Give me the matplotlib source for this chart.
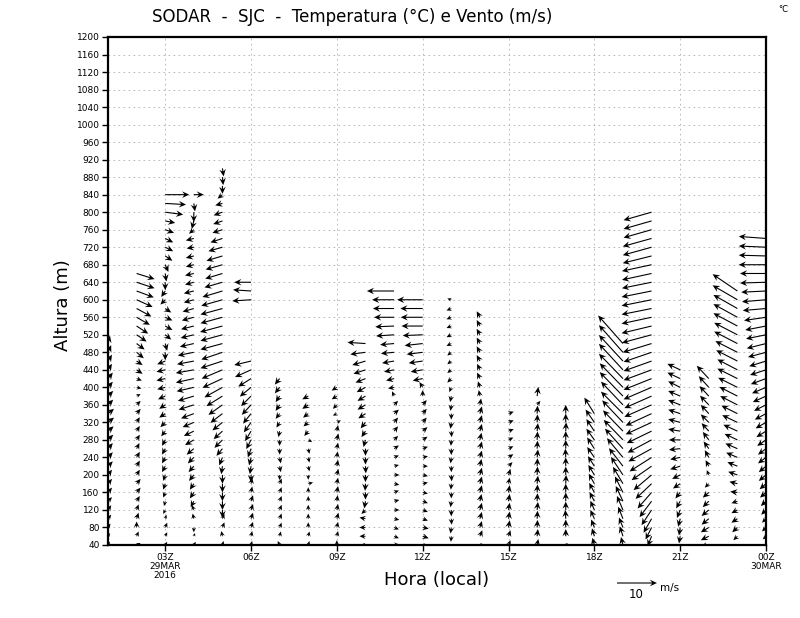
import numpy as np
import matplotlib
matplotlib.use('Agg')
import matplotlib.pyplot as plt

# hourly profiles, 01Z .. 24Z (00Z 30MAR)
hours = list(range(1, 25))
tops = [500, 660, 840, 840, 900, 640, 420, 380, 400, 500, 620, 600,
        600, 560, 340, 380, 340, 340, 500, 800, 440, 420, 620, 740]

# u, v in m/s, from the top level down to 40 m, every 20 m (None = no data)
u01 = [0.5, 0.8, 1.0, 1.0, 1.2, 1.2, 1.3, 1.3, 1.5, 1.5, 1.4, 1.3, 1.2, 1.2, 1.2, 1.0,
       1.0, 1.0, 1.0, 0.8, 0.8, 0.6, 0.5, 0.5]
v01 = [2.0, 1.8, 1.6, 1.5, 1.5, 1.4, 1.3, 1.3, 1.2, 1.2, 1.2, 1.3, 1.4, 1.3, 1.2, 1.3,
       1.2, 1.2, 1.0, 1.2, 1.0, 1.0, 0.8, 0.8]
u02 = [4.5, 4.5, 4.3, 4.0, 3.7, 3.3, 2.9, 2.5, 2.0, 1.8, 1.5, 1.5, 1.3, 1.2, 1.0, 1.0,
       1.0, 0.8, 0.8, 0.8, 0.7, 0.8, 0.8, 0.8, 1.0, 1.0, 0.8, 0.5, 0.5, 0.0, 0.5, 1.0]
v02 = [-1.4, -1.5, -1.6, -1.8, -2.0, -1.9, -1.9, -1.7, -1.5, -1.5, -1.0, -1.0, -0.5, -0.3, 0.5, 1.0,
       1.2, 1.3, 1.3, 1.3, 1.4, 1.4, 1.4, 1.3, 1.2, 1.2, 1.3, 1.4, 1.5, 1.5, 1.2, 0.5]
u03 = [6.0, 5.2, 4.5, 2.5, 2.2, 2.0, 2.0, 1.8, 0.8, 0.3, 0.0, -1.0, -1.2, 1.5, 1.8, 1.8,
       1.5, 0.5, 0.0, -2.0, -2.2, -2.2, -2.0, -1.8, -1.5, -1.5, -1.2, -1.0, -0.8, -0.8, -0.8, -0.8,
       -0.5, -0.5, -0.5, -0.3, -0.5, 0.3, 0.5, 0.5, 0.5]
v03 = [0.0, -0.3, -0.6, -0.5, -0.8, -1.0, -1.0, -1.2, -1.8, -2.0, -2.0, -1.5, -1.2, -1.0, -0.8, -1.0,
       -1.2, -1.8, -2.0, -0.8, -0.5, -0.5, -0.5, -0.8, -1.0, -1.0, -1.2, -1.3, -1.5, -1.5, -1.5, -1.5,
       -1.5, -1.5, -1.3, -1.2, -1.0, 1.0, 1.2, 1.0, 0.8]
u04 = [2.5, 0.3, 0.0, -0.5, -1.2, -2.0, -1.8, -2.0, -2.0, -2.2, -2.2, -2.5, -2.5, -2.8, -3.0, -3.2,
       -3.3, -3.5, -4.0, -4.2, -4.5, -4.5, -4.3, -4.0, -3.8, -3.2, -2.8, -2.5, -2.2, -1.8, -1.5, -1.3,
       -1.2, -1.0, -1.0, -0.8, -0.5, -0.3, 0.0, 0.3, 0.5]
v04 = [0.0, -2.0, -2.5, -2.0, -1.0, -0.5, -0.3, -0.5, -0.5, -0.5, -0.6, -0.6, -0.7, -0.8, -0.8, -0.8,
       -0.8, -0.8, -0.8, -0.8, -0.8, -1.0, -1.0, -1.2, -1.2, -1.2, -1.2, -1.2, -1.3, -1.5, -1.5, -1.5,
       -1.5, -1.5, -1.5, -1.5, 1.2, 1.3, -1.2, 0.8, 0.8]
u05 = [0.3, 0.2, 0.0, -1.2, -1.8, -2.2, -2.3, -2.5, -3.0, -3.5, -4.0, -4.2, -4.3, -4.5, -5.0, -5.3,
       -5.5, -5.5, -5.6, -5.5, -5.5, -5.3, -5.5, -5.2, -5.0, -4.5, -4.0, -3.5, -3.0, -2.5, -2.2, -2.0,
       -1.5, -0.8, -0.3, 0.0, 0.0, 0.0, 0.0, 0.0, 0.5, 0.5, -0.3, 0.3]
v05 = [-2.0, -2.0, -2.0, -1.0, -0.5, -0.8, -0.8, -0.8, -1.0, -1.0, -1.2, -1.2, -1.3, -1.3, -1.5, -1.5,
       -1.5, -1.5, -1.5, -1.5, -1.5, -1.8, -1.8, -2.2, -2.3, -2.5, -2.5, -2.5, -2.3, -2.0, -2.0, -2.0,
       -1.8, -2.0, -2.0, -2.2, -2.2, -2.2, -2.2, -2.0, 1.2, 1.3, 1.3, 1.0]
u06 = [-4.2, -4.5, -4.7, None, None, None, None, None, None, -4.2, -4.0, -3.2, -2.8, -2.5, -2.3, -2.0,
       -1.8, -1.5, -1.2, -0.8, -0.5, -0.3, 0.0, 0.3, 0.3, 0.5, 0.5, 0.5, 0.5, 0.3, 0.3]
v06 = [0.0, 0.3, -0.3, None, None, None, None, None, None, -1.0, -1.8, -2.0, -2.3, -2.5, -2.5, -2.5,
       -2.5, -2.5, -2.3, -2.2, -2.0, -2.0, -1.8, 1.5, 1.5, 1.5, 1.5, 1.5, 1.4, 1.3, 1.0]
u07 = [-1.2, -1.2, -1.0, -1.0, -1.0, -0.8, -0.3, 0.0, 0.0, 0.3, 0.3, 0.0, 0.5, 0.5, 0.5, 0.5,
       0.5, 0.5, 0.3, -0.5]
v07 = [-1.5, -1.5, -1.5, -1.5, -1.3, -1.3, -1.5, -1.5, -1.5, -1.5, -1.5, -1.3, 1.3, 1.3, 1.3, 1.3,
       1.3, 1.2, 1.2, 1.0]
u08 = [-1.5, -1.5, -1.3, -1.2, -1.0, 1.0, 0.3, 0.3, 0.3, 0.0, 1.2, 0.0, 0.0, 0.0, 0.0, 0.0,
       0.3, 0.3]
v08 = [-0.8, -1.0, -1.0, -1.0, -1.2, -0.5, -1.3, -1.3, -1.3, -1.2, 0.3, 1.3, 1.3, 1.3, 1.3, 1.3,
       1.2, 1.0]
u09 = [-1.3, -1.3, -1.0, -1.0, 1.0, 0.3, 0.4, 0.3, 0.2, 0.3, 0.4, 0.3, 0.3, 0.2, 0.3, 0.4,
       0.3, 0.3, 0.0]
v09 = [-0.8, -0.8, -1.0, -0.5, 0.5, 1.5, 1.6, 1.5, 1.5, 1.6, 1.5, 1.5, 1.6, 1.5, 1.5, 1.5,
       1.4, 1.3, 1.2]
u10 = [-4.5, -3.8, -3.3, -3.0, -2.5, -2.2, -2.0, -2.0, -1.8, -1.2, -1.0, -0.5, 0.0, 0.0, 0.1, 0.0,
       -0.1, 0.0, -0.3, -1.0, -1.5, -1.5, -1.5, -1.3]
v10 = [0.3, -0.5, -1.0, -1.0, -1.0, -1.2, -1.2, -1.2, -1.2, -1.5, -1.5, -1.8, -1.8, -1.8, -1.8, -1.8,
       -1.8, -1.8, -1.8, -1.0, 0.3, 0.0, 0.0, 0.0]
u11 = [-6.8, -5.5, -5.3, -5.0, -4.7, -4.5, -3.5, -3.3, -3.0, -2.5, -2.0, -1.5, -0.5, 1.0, 1.2, 1.0,
       1.0, 1.0, 1.2, 1.2, 1.2, 1.3, 1.3, 1.2, 1.3, 1.3, 1.3, 1.2, 1.2, 1.5]
v11 = [0.0, 0.0, 0.0, 0.0, -0.2, -0.3, -0.3, -0.3, -0.5, -0.5, -0.5, -0.3, 1.2, 1.0, 1.0, 1.2,
       1.2, 1.0, 0.8, 0.5, 0.3, 0.0, -0.3, 0.5, 0.3, 0.0, -0.3, -0.5, -0.5, 0.0]
u12 = [-6.4, -5.6, -5.5, -5.3, -5.0, -4.5, -4.0, -3.5, -3.0, -2.5, -0.8, 0.0, 1.0, 1.0, 1.0, 1.2,
       1.2, 1.3, 1.3, 1.3, 1.3, 1.3, 1.3, 1.3, 1.3, 1.3, 1.5, 1.5, 1.3]
v12 = [0.0, 0.0, 0.0, 0.0, -0.2, -0.5, -0.5, -0.5, -0.5, -0.5, 1.3, 1.5, 1.2, 1.2, 1.2, 1.0,
       0.8, 0.5, 0.3, 0.0, -0.3, 0.3, -0.3, -0.5, -0.5, -0.5, -0.3, -0.5, -0.3]
u13 = [-1.0, -1.2, -1.2, -1.2, -1.2, -1.2, -1.0, -1.0, -1.0, -1.0, -0.5, -0.3, -0.2, 0.0, -0.2, 0.1,
       -0.1, 0.0, -0.2, 0.0, 0.1, -0.1, 0.0, -0.2, 0.0, 0.1, -0.2, -0.1, 0.0]
v13 = [0.3, -0.5, -0.5, -0.5, -0.6, -0.6, -0.8, -0.8, -0.8, -1.0, -1.2, -1.5, -1.5, -1.5, -1.6, -1.5,
       -1.5, -1.6, -1.5, -1.5, -1.6, -1.5, -1.5, -1.5, -1.6, -1.5, -1.5, -1.4, -1.2]
u14 = [-0.8, -0.8, -0.8, -0.8, -0.8, -0.8, -0.7, -0.7, -0.5, -0.3, 0.3, 0.5, 0.5, 0.5, 0.4, 0.5,
       0.5, 0.4, 0.5, 0.5, 0.5, 0.4, 0.5, 0.5, 0.5, 0.6, 1.2]
v14 = [1.5, 1.5, 1.5, 1.5, 1.5, 1.5, 1.5, 1.5, 1.5, 1.5, 1.6, 1.8, 1.8, 1.8, 1.8, 1.8,
       1.7, 1.8, 1.8, 1.8, 1.8, 1.8, 1.8, 1.7, 1.6, 1.5, 0.0]
u15 = [1.3, 1.3, 1.3, 1.2, 1.2, 1.2, 1.0, 0.5, 0.3, 0.3, 0.3, 0.3, 0.3, 0.3, 0.5, 0.5]
v15 = [0.5, 0.5, 0.5, 0.6, 0.6, 0.8, 1.0, 1.5, 1.5, 1.8, 1.8, 1.8, 1.8, 1.8, 1.5, 1.2]
u16 = [0.3, 0.8, 0.1, 0.1, 0.2, 0.1, 0.1, 0.2, 0.1, 0.1, 0.2, 0.1, 0.1, 0.2, 0.1, 0.1, 0.2, 0.3]
v16 = [2.3, 1.0, 2.0, 2.0, 2.0, 2.1, 2.0, 2.0, 2.0, 2.1, 2.0, 2.0, 2.0, 2.0, 2.0, 1.9, 1.8, 1.5]
u17 = [0.0, 0.0, 0.1, 0.0, 0.0, -0.1, 0.0, 0.0, 0.1, 0.0, 0.0, 0.0, -0.1, 0.0, 0.0, 0.5]
v17 = [2.2, 2.2, 2.2, 2.2, 2.2, 2.2, 2.2, 2.1, 2.2, 2.2, 2.2, 2.1, 2.2, 2.0, 1.8, 0.5]
u18 = [-2.5, -2.2, -2.0, -2.0, -1.8, -1.8, -1.6, -1.5, -1.4, -1.3, -1.2, -1.0, -1.0, -0.8, -0.6, -0.5]
v18 = [4.0, 3.2, 3.0, 2.8, 2.8, 2.6, 2.5, 2.5, 2.5, 2.4, 2.3, 2.3, 2.2, 2.0, 2.0, 1.8]
u19 = [-6.2, -6.0, -6.0, -6.0, -6.0, -5.8, -5.8, -5.5, -5.5, -5.2, -5.0, -4.8, -4.5, -4.0, -3.5, -3.0,
       -2.5, -2.0, -1.8, -1.5, -1.2, -1.0, -0.8, -0.5]
v19 = [7.0, 6.8, 6.5, 6.5, 6.2, 6.0, 6.0, 5.8, 5.5, 5.5, 5.2, 5.0, 5.0, 4.8, 4.5, 4.5,
       4.2, 4.0, 3.8, 3.5, 3.0, 2.5, 2.5, 2.0]
u20 = [-7.0, -7.0, -7.0, -7.2, -7.2, -7.2, -7.4, -7.4, -7.4, -7.5, -7.5, -7.5, -7.5, -7.5, -7.4, -7.2,
       -7.0, -7.0, -7.0, -7.0, -7.0, -6.8, -6.8, -6.5, -6.5, -6.2, -6.0, -5.8, -5.5, -5.0, -4.5, -4.0,
       -3.5, -3.0, -2.5, -2.0, -1.5, -1.0, -0.5]
v20 = [-2.0, -2.0, -2.0, -2.0, -2.0, -1.8, -1.6, -1.6, -1.5, -1.5, -1.5, -1.5, -1.6, -1.8, -2.0, -2.2,
       -2.4, -2.5, -2.6, -2.8, -3.0, -3.0, -3.0, -3.0, -3.0, -3.0, -3.2, -3.2, -3.5, -3.5, -3.8, -3.8,
       -4.0, -4.0, -3.8, -3.5, -3.0, -2.5, -1.5]
u21 = [-3.2, -3.2, -3.0, -3.0, -3.0, -3.0, -3.0, -3.0, -2.8, -2.8, -2.5, -2.5, -2.0, -1.8, -1.2, -1.0,
       -0.8, -0.5, -0.3, -0.3, 0.2]
v21 = [1.5, 1.5, 1.5, 1.3, 1.2, 1.0, 0.8, 0.5, 0.0, -0.3, -0.5, -0.8, -1.0, -1.2, -1.5, -1.8,
       -2.0, -2.0, -2.0, -1.8, -1.5]
u22 = [-3.0, -2.5, -2.3, -2.2, -2.0, -2.0, -1.8, -1.5, -1.3, -1.0, -0.8, -0.5, -1.0, -1.5, -1.5, -1.8,
       -1.8, -2.0, -2.0, -2.2]
v22 = [3.2, 2.8, 2.5, 2.3, 2.2, 2.0, 2.0, 2.0, 1.8, 1.8, 1.5, 1.2, -1.0, -1.3, -1.5, -1.5,
       -1.5, -1.2, -1.0, -0.5]
u23 = [-6.2, -6.2, -6.0, -6.0, -6.0, -5.8, -5.8, -5.5, -5.3, -5.0, -5.0, -4.8, -4.5, -4.3, -4.0, -3.8,
       -3.5, -3.2, -3.0, -2.8, -2.5, -2.3, -2.0, -1.8, -1.5, -1.5, -1.5, -1.3, -1.0, -0.8]
v23 = [4.2, 3.6, 3.4, 3.3, 3.2, 3.0, 3.0, 2.8, 2.7, 2.6, 2.5, 2.4, 2.3, 2.2, 2.0, 1.8,
       1.6, 1.5, 1.3, 1.2, 1.0, 0.8, 0.5, 0.2, -0.5, -0.8, -1.0, -1.2, -1.0, -0.8]
u24 = [-6.8, -6.8, -6.8, -6.8, -6.5, -6.5, -6.2, -6.0, -5.8, -5.5, -5.2, -5.0, -4.8, -4.5, -4.2, -4.0,
       -3.8, -3.5, -3.3, -3.0, -2.8, -2.6, -2.4, -2.2, -2.0, -2.0, -1.8, -1.8, -1.6, -1.5, -1.3, -1.2,
       -1.0, -1.0, -0.8, -0.5]
v24 = [0.5, 0.3, 0.2, 0.0, 0.0, -0.2, -0.3, -0.5, -0.5, -0.8, -1.0, -1.0, -1.2, -1.2, -1.3, -1.3,
       -1.4, -1.5, -1.5, -1.5, -1.5, -1.5, -1.5, -1.5, -1.5, -1.5, -1.5, -1.5, -1.4, -1.3, -1.2, -1.2,
       -1.0, -1.0, -0.8, -0.5]

u_cols = [u01, u02, u03, u04, u05, u06, u07, u08, u09, u10, u11, u12,
          u13, u14, u15, u16, u17, u18, u19, u20, u21, u22, u23, u24]
v_cols = [v01, v02, v03, v04, v05, v06, v07, v08, v09, v10, v11, v12,
          v13, v14, v15, v16, v17, v18, v19, v20, v21, v22, v23, v24]

xtick_pos = [3, 6, 9, 12, 15, 18, 21, 24]
xtick_lab = ['03Z\n29MAR\n2016', '06Z', '09Z', '12Z', '15Z', '18Z', '21Z', '00Z\n30MAR']

xs, ys, us, vs = [], [], [], []
for h, top, uc, vc in zip(hours, tops, u_cols, v_cols):
    for k, (uu, vv) in enumerate(zip(uc, vc)):
        if uu is None:
            continue
        xs.append(h)
        ys.append(top - 20 * k)
        us.append(uu)
        vs.append(vv)

fig = plt.figure(figsize=(8, 6.18), dpi=100)
ax = fig.add_axes([108 / 800, 73 / 618, 658 / 800, 508 / 618])

# open-looking heads: long legs, deep notch
q = ax.quiver(xs, ys, us, vs, pivot='tail', angles='uv', units='dots', width=1.1,
              scale_units='dots', scale=0.25, headwidth=6, headlength=6.5,
              headaxislength=4.5, minlength=0.1, color='black', zorder=3)

ax.set_xlim(1, 24)
ax.set_ylim(40, 1200)
ax.set_yticks(range(40, 1201, 40))
ax.set_xticks(xtick_pos)
ax.set_xticklabels(xtick_lab, linespacing=1.0)
ax.grid(True, color='#b0b0b0', linestyle=(0, (2, 4)), linewidth=0.6)
ax.tick_params(direction='out', length=4, width=1, labelsize=6.5, pad=2)
for s in ax.spines.values():
    s.set_linewidth(1.6)

fig.text(352 / 800, 1 - 17 / 618, 'SODAR  -  SJC  -  Temperatura (°C) e Vento (m/s)',
         ha='center', va='center', fontsize=12)
fig.text(783 / 800, 1 - 10 / 618, '°C', ha='center', va='center', fontsize=6)
fig.text(63 / 800, 1 - 305 / 618, 'Altura (m)', rotation=90, ha='center', va='center', fontsize=13)
fig.text(437 / 800, 1 - 580 / 618, 'Hora (local)', ha='center', va='center', fontsize=13)

ax.quiverkey(q, 637 / 800, 1 - 583 / 618, 10, '', coordinates='figure', labelpos='S')
fig.text(636 / 800, 1 - 594 / 618, '10', ha='center', va='center', fontsize=8.5)
fig.text(670 / 800, 1 - 588 / 618, 'm/s', ha='center', va='center', fontsize=7.5)

fig.savefig('out.png', dpi=100)
